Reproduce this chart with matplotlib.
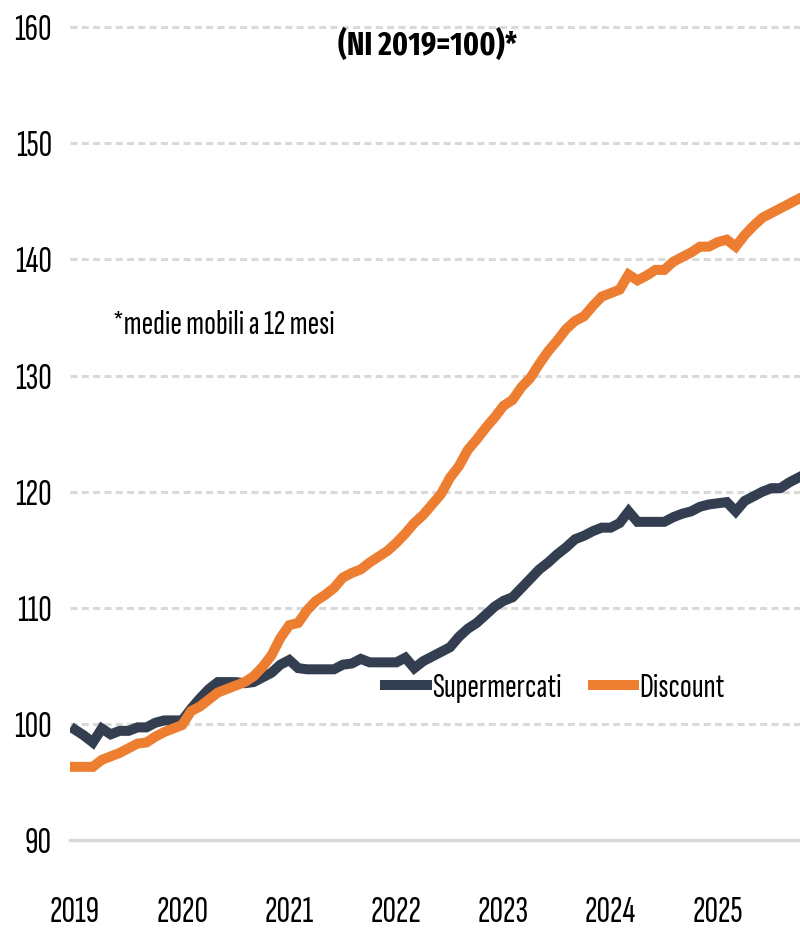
import matplotlib
matplotlib.use("Agg")
import matplotlib.pyplot as plt
import numpy as np

plt.rcParams['font.family'] = ['Sofia Sans Extra Condensed', 'DejaVu Sans']

# monthly 12-month moving averages, Jan 2019 .. Oct 2025
supermercati = [99.5, 99.0, 98.4, 99.6, 99.1, 99.4, 99.4, 99.7, 99.7, 100.1,
                100.3, 100.3, 100.3, 101.3, 102.2, 103.0, 103.6, 103.6, 103.6, 103.5,
                103.6, 104.0, 104.4, 105.1, 105.5, 104.8, 104.7, 104.7, 104.7, 104.7,
                105.1, 105.2, 105.6, 105.3, 105.3, 105.3, 105.3, 105.7, 104.8, 105.4,
                105.8, 106.2, 106.6, 107.5, 108.2, 108.7, 109.4, 110.1, 110.6, 110.9,
                111.7, 112.5, 113.3, 113.9, 114.6, 115.2, 115.9, 116.2, 116.6, 116.9,
                116.9, 117.3, 118.3, 117.4, 117.4, 117.4, 117.4, 117.8, 118.1, 118.3,
                118.7, 118.9, 119.0, 119.1, 118.3, 119.2, 119.6, 120.0, 120.3, 120.3,
                120.8, 121.2]
discount = [96.3, 96.3, 96.3, 96.9, 97.2, 97.5, 97.9, 98.3, 98.4, 98.9,
            99.3, 99.6, 99.9, 101.1, 101.5, 102.1, 102.7, 103.0, 103.3, 103.6,
            104.1, 104.9, 105.9, 107.4, 108.5, 108.7, 109.8, 110.6, 111.1, 111.7,
            112.6, 113.0, 113.3, 113.9, 114.4, 114.9, 115.6, 116.4, 117.3, 118.0,
            118.9, 119.8, 121.2, 122.2, 123.6, 124.5, 125.5, 126.4, 127.4, 127.9,
            129.0, 129.8, 131.0, 132.1, 133.0, 134.0, 134.7, 135.1, 136.0, 136.8,
            137.1, 137.4, 138.7, 138.2, 138.6, 139.1, 139.1, 139.8, 140.2, 140.6,
            141.1, 141.1, 141.5, 141.7, 141.1, 142.1, 142.9, 143.6, 144.0, 144.4,
            144.8, 145.2]
years = ['2019', '2020', '2021', '2022', '2023', '2024', '2025']
y_ticks = [90, 100, 110, 120, 130, 140, 150, 160]

navy = '#333F50'
orange = '#ED7D31'
grid_col = '#D9D9D9'

fig = plt.figure(figsize=(8, 9.3), dpi=100)
ax = fig.add_axes([70 / 800, 1 - 840 / 930, 730 / 800, (840 - 15.6) / 930])

x = np.arange(len(supermercati))
ax.plot(x, supermercati, color=navy, lw=7.2, label='Supermercati', solid_joinstyle='miter')
ax.plot(x, discount, color=orange, lw=7.2, label='Discount', solid_joinstyle='miter')

ax.set_xlim(-0.56, 81.2)
ax.set_ylim(90, 161)
ax.set_yticks(y_ticks)
ax.set_xticks(np.arange(len(years)) * 12)
ax.set_xticklabels(years)

for v in y_ticks[1:]:
    ax.axhline(v, color=grid_col, lw=2.2, dashes=(2.3, 1.4), zorder=0)
ax.axhline(90, color=grid_col, lw=2.5, zorder=0, clip_on=False)

for s in ax.spines.values():
    s.set_visible(False)
ax.tick_params(axis='both', length=0, labelsize=27, colors='black')
ax.tick_params(axis='y', pad=13)
ax.tick_params(axis='x', pad=40)

fig.text(428 / 800, 1 - 45 / 930, '(NI 2019=100)*', ha='center', va='center',
         fontsize=23, fontweight='bold',
         family=['Fira Sans Extra Condensed', 'DejaVu Sans'])
fig.text(113 / 800, 1 - 325 / 930, '*medie mobili a 12 mesi', ha='left', va='center',
         fontsize=25)

ax.legend(loc='center', bbox_to_anchor=(555 / 800, 1 - 688 / 930),
          bbox_transform=fig.transFigure, ncol=2, frameon=False, fontsize=25,
          handlelength=1.2, handletextpad=0.15, columnspacing=0.9)

fig.savefig('out.png', dpi=100)
